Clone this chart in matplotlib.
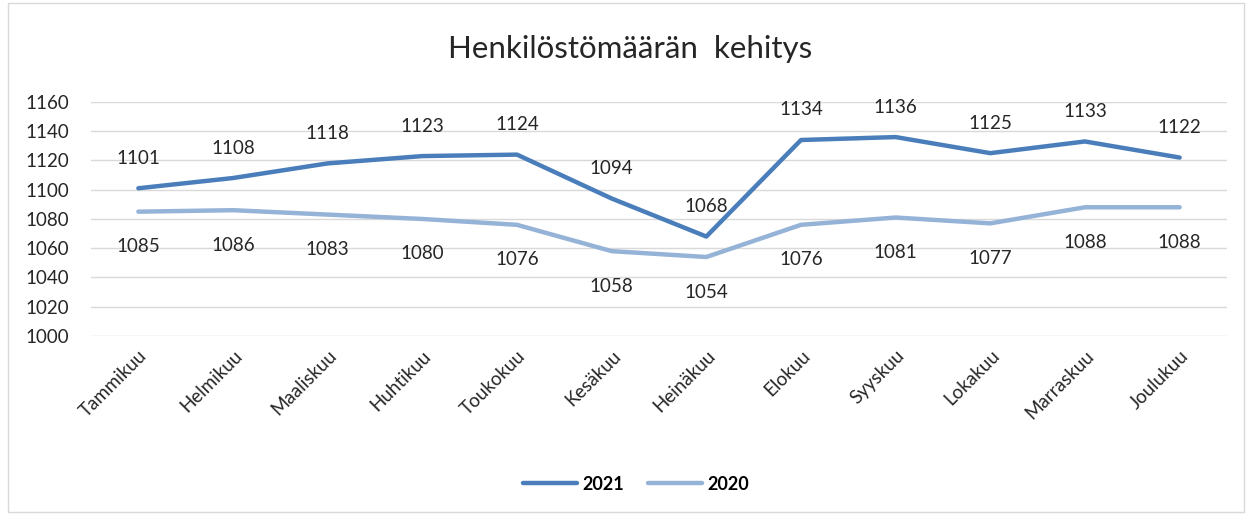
import matplotlib.pyplot as plt
from matplotlib.patches import Rectangle

plt.rcParams['font.family'] = ['Lato', 'DejaVu Sans']

months = ['Tammikuu', 'Helmikuu', 'Maaliskuu', 'Huhtikuu', 'Toukokuu', 'Kesäkuu',
          'Heinäkuu', 'Elokuu', 'Syyskuu', 'Lokakuu', 'Marraskuu', 'Joulukuu']
v2021 = [1101, 1108, 1118, 1123, 1124, 1094, 1068, 1134, 1136, 1125, 1133, 1122]
v2020 = [1085, 1086, 1083, 1080, 1076, 1058, 1054, 1076, 1081, 1077, 1088, 1088]
yticks = list(range(1000, 1161, 20))

c2021 = '#4a7ebb'
c2020 = '#95b3d7'

fig = plt.figure(figsize=(12.52, 5.15), dpi=100)
fig.patches.append(Rectangle((0.006, 0.006), 0.988, 0.988, transform=fig.transFigure,
                             fill=False, edgecolor='#d9d9d9', linewidth=1))
ax = fig.add_axes([0.0727, 0.3476, 0.9073, 0.4544])

x = list(range(len(months)))
ax.plot(x, v2021, color=c2021, linewidth=3.2, solid_capstyle='round', label='2021', zorder=3)
ax.plot(x, v2020, color=c2020, linewidth=3.2, solid_capstyle='round', label='2020', zorder=3)

for i, v in enumerate(v2021):
    ax.annotate(str(v), (i, v), xytext=(0, 30), textcoords='offset pixels',
                ha='center', va='center', fontsize=13.5, color='#262626')
for i, v in enumerate(v2020):
    ax.annotate(str(v), (i, v), xytext=(0, -35), textcoords='offset pixels',
                ha='center', va='center', fontsize=13.5, color='#262626')

ax.set_xlim(-0.5, len(months) - 0.5)
ax.set_ylim(1000, 1160)
ax.set_yticks(yticks)
ax.set_xticks(x)
ax.set_xticklabels(months, rotation=45, ha='right', rotation_mode='anchor', fontsize=13.5, color='#262626')
ax.tick_params(axis='y', labelsize=13.5, labelcolor='#262626', length=0, pad=16)
ax.tick_params(axis='x', length=0, pad=8)
ax.grid(axis='y', color='#d9d9d9', linewidth=1)
ax.set_axisbelow(True)
for s in ax.spines.values():
    s.set_visible(False)

fig.text(0.503, 0.905, 'Henkilöstömäärän  kehitys', ha='center', va='center', fontsize=22.5, color='#262626')

leg = fig.legend(loc='center', bbox_to_anchor=(0.508, 0.06), ncol=2, frameon=False,
                 prop={'weight': 'bold', 'size': 13}, handlelength=3.0, handletextpad=0.3, columnspacing=1.3)

fig.savefig('out.png', dpi=100)
